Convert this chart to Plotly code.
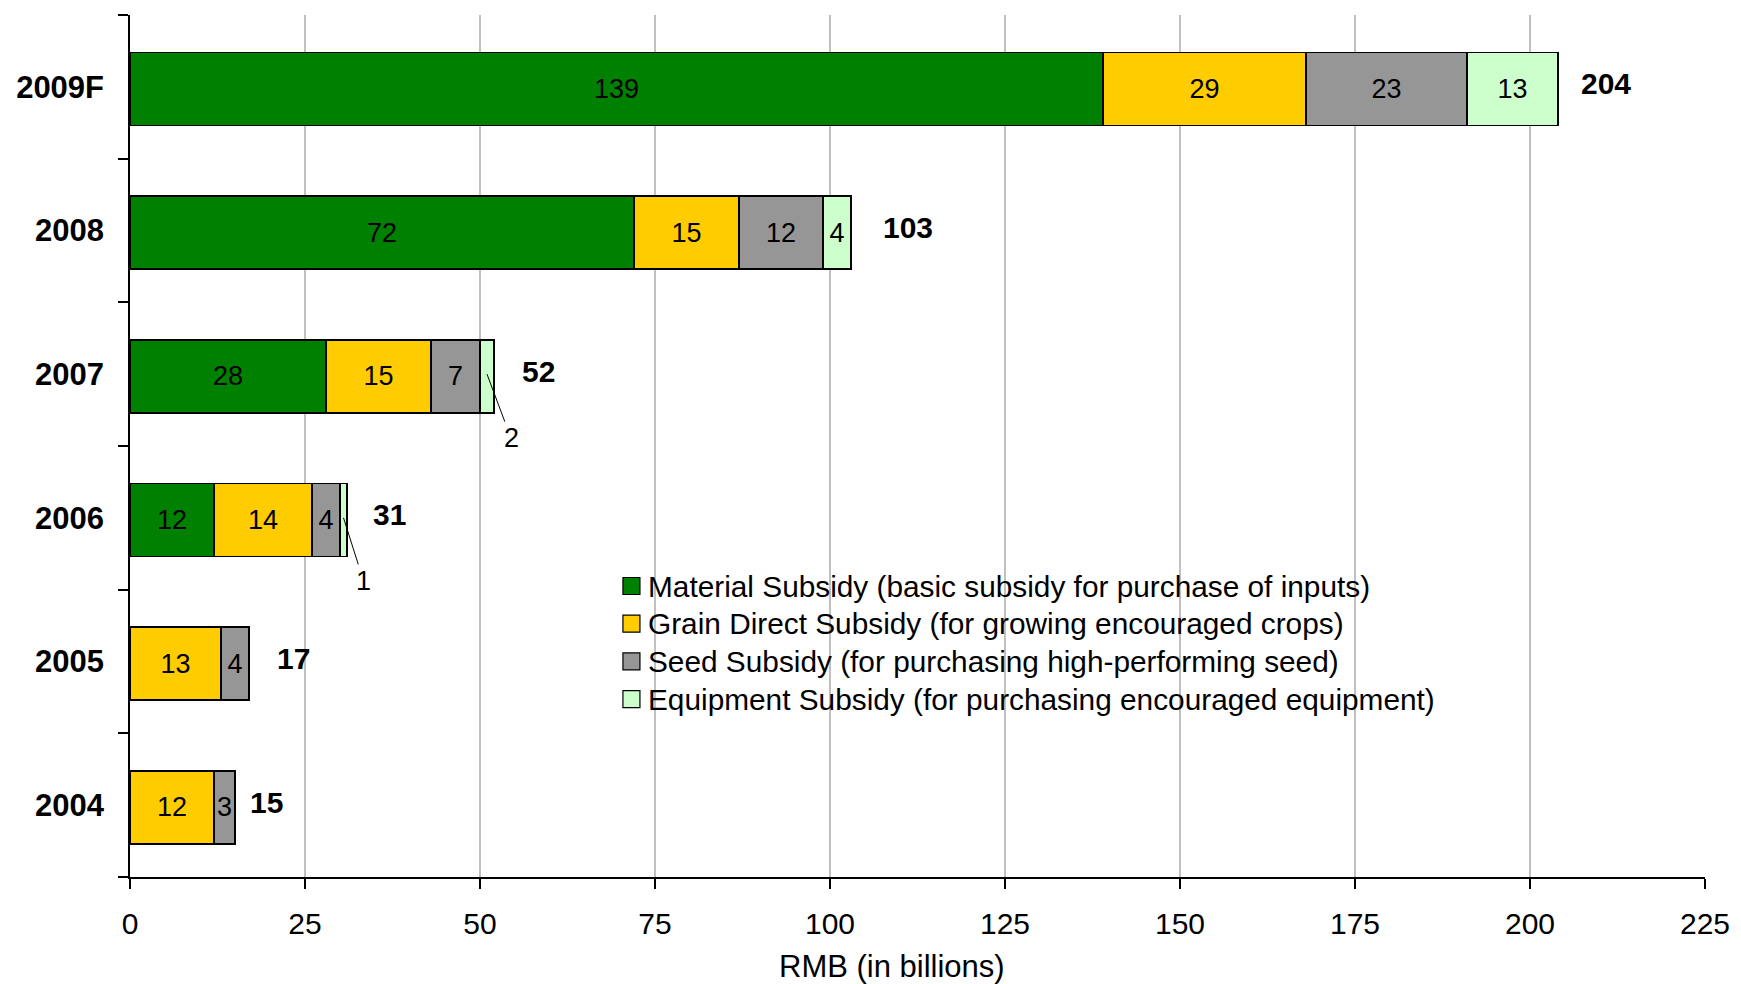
import plotly.graph_objects as go

# Agricultural subsidies by year, RMB billions
years = ["2004", "2005", "2006", "2007", "2008", "2009F"]
material = [0, 0, 12, 28, 72, 139]
grain = [12, 13, 14, 15, 15, 29]
seed = [3, 4, 4, 7, 12, 23]
equipment = [0, 0, 1, 2, 4, 13]

series_names = [
    "Material Subsidy (basic subsidy for purchase of inputs)",
    "Grain Direct Subsidy (for growing encouraged crops)",
    "Seed Subsidy (for purchasing high-performing seed)",
    "Equipment Subsidy (for purchasing encouraged equipment)",
]
series_colors = ["#008000", "#FFCC00", "#969696", "#CCFFCC"]
series_values = [material, grain, seed, equipment]

# Segments too narrow for an inside label get a callout instead
callout_years = ["2006", "2007"]

FONT = "Liberation Sans, Arial, sans-serif"

W, H = 1741, 984
M_L, M_R, M_T, M_B = 129.5, 36.3, 15, 107
plot_w = W - M_L - M_R
plot_h = H - M_T - M_B

BAR_W = 0.508
BAR_OFFSET = -BAR_W / 2 - 0.015

# Gap (px) between each bar's end and its total label
total_gap = {"2004": 13, "2005": 26, "2006": 24, "2007": 26, "2008": 30, "2009F": 21}


def px_to_paper(px, py):
    return (px - M_L) / plot_w, (H - M_B - py) / plot_h


fig = go.Figure()
for name, color, vals in zip(series_names, series_colors, series_values):
    texts = []
    for y, v in zip(years, vals):
        if v == 0 or (vals is equipment and y in callout_years):
            texts.append("")
        else:
            texts.append(str(v))
    fig.add_trace(go.Bar(
        y=years, x=vals, name=name, orientation="h",
        width=BAR_W, offset=BAR_OFFSET,
        marker=dict(color=color, line=dict(color="black", width=1.5)),
        text=texts, textposition="inside", insidetextanchor="middle",
        constraintext="none",
        textfont=dict(family=FONT, size=27, color="black"),
        hoverinfo="skip", showlegend=False,
    ))

totals = [sum(v) for v in zip(*series_values)]

# Category positions on the axis are indices into `years`
annotations = []
for i, (y, t) in enumerate(zip(years, totals)):
    annotations.append(dict(
        x=t, y=i, xref="x", yref="y", text=f"<b>{t}</b>",
        showarrow=False, xanchor="left", yanchor="middle",
        xshift=total_gap[y], yshift=3,
        font=dict(family=FONT, size=30, color="black"),
    ))

# Callouts for the thin equipment segments
callout_offsets = {"2006": (20, 63), "2007": (24, 64)}
for y in callout_years:
    i = years.index(y)
    start = material[i] + grain[i] + seed[i]
    ax, ay = callout_offsets[y]
    annotations.append(dict(
        x=start + equipment[i] / 2, y=i, xref="x", yref="y",
        text=str(equipment[i]), showarrow=True, arrowhead=0,
        arrowwidth=1, arrowcolor="black", ax=ax, ay=ay,
        font=dict(family=FONT, size=27, color="black"),
    ))

# Axis title
tx, ty = px_to_paper(892, 966)
annotations.append(dict(
    x=tx, y=ty, xref="paper", yref="paper", text="RMB (in billions)",
    showarrow=False, xanchor="center", yanchor="middle",
    font=dict(family=FONT, size=31, color="black"),
))

# Legend: swatch plus label per series
shapes = []
row0, row_step = 586, 37.7
sw_cx, sw_half = 631, 8.5
for k, (name, color) in enumerate(zip(series_names, series_colors)):
    cy = row0 + k * row_step
    x0, y0 = px_to_paper(sw_cx - sw_half, cy + sw_half)
    x1, y1 = px_to_paper(sw_cx + sw_half, cy - sw_half)
    shapes.append(dict(
        type="rect", xref="paper", yref="paper", x0=x0, y0=y0, x1=x1, y1=y1,
        fillcolor=color, line=dict(color="black", width=1.2), layer="above",
    ))
    lx, ly = px_to_paper(646, cy)
    annotations.append(dict(
        x=lx, y=ly, xref="paper", yref="paper", text=name,
        showarrow=False, xanchor="left", yanchor="middle",
        font=dict(family=FONT, size=29.8, color="black"),
    ))

fig.update_layout(
    width=W, height=H,
    margin=dict(l=M_L, r=M_R, t=M_T, b=M_B),
    paper_bgcolor="white", plot_bgcolor="white",
    barmode="stack",
    showlegend=False,
    xaxis=dict(
        range=[0, 225], dtick=25, tick0=0,
        showgrid=True, gridcolor="#C0C0C0", gridwidth=1.5,
        zeroline=False, showline=True, linecolor="black", linewidth=1.5,
        ticks="outside", ticklen=10, tickwidth=1.5, tickcolor="black",
        ticklabelstandoff=9,
        tickfont=dict(family=FONT, size=30, color="black"),
    ),
    yaxis=dict(
        type="category", categoryorder="array", categoryarray=years,
        range=[-0.5, len(years) - 0.5], autorange=False,
        showgrid=False, zeroline=False,
        showline=True, linecolor="black", linewidth=1.5,
        ticks="outside", tickson="boundaries", ticklen=10, tickwidth=1.5,
        tickcolor="black", ticklabelstandoff=18,
        tickfont=dict(family=FONT, size=31, color="black", weight="bold"),
    ),
    annotations=annotations,
    shapes=shapes,
)

fig.write_html("out.html")
